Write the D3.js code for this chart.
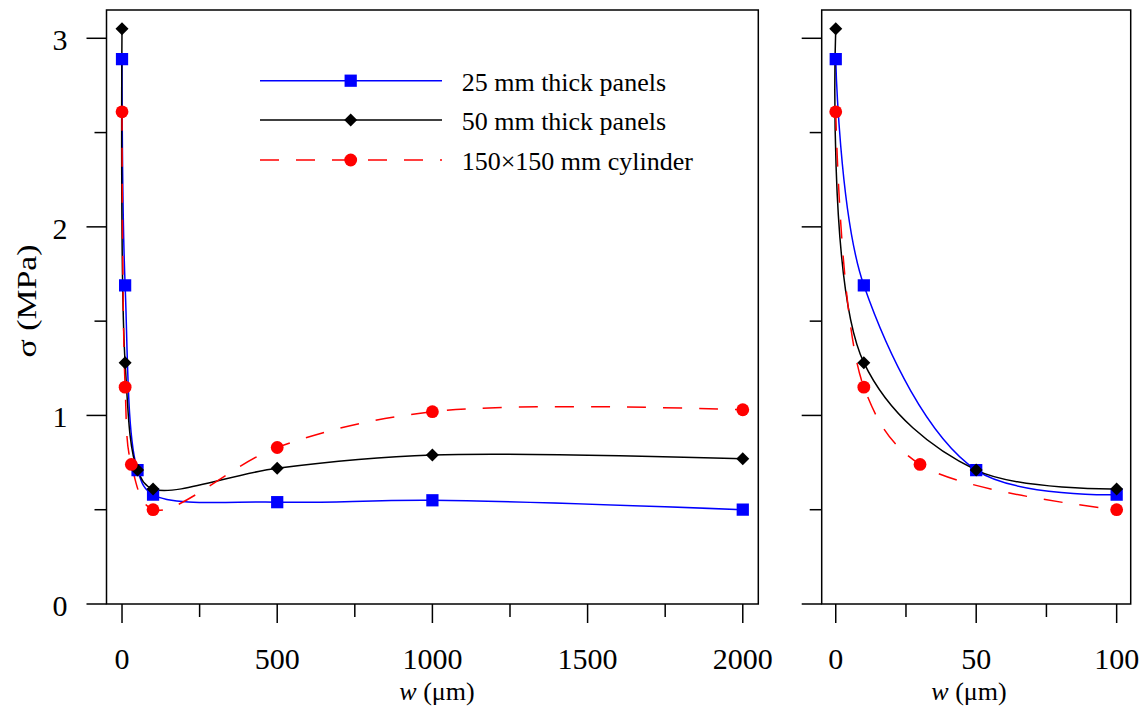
<!DOCTYPE html>
<html>
<head>
<meta charset="utf-8">
<script src="https://cdn.jsdelivr.net/npm/d3@7"></script>
<style>
  html, body { margin: 0; padding: 0; background: #fff; }
  svg { display: block; font-family: "Liberation Serif", "Times New Roman", serif; }
</style>
</head>
<body>
<svg id="chart" width="1148" height="717"></svg>
<script>
// ---- data ----
const seriesNames = ["25 mm thick panels", "50 mm thick panels", "150\u00d7150 mm cylinder"];
const w25 = [0, 10, 50, 100, 500, 1000, 2000];
const s25 = [2.89, 1.69, 0.71, 0.58, 0.54, 0.55, 0.50];
const w50 = [0, 10, 50, 100, 500, 1000, 2000];
const s50 = [3.05, 1.28, 0.71, 0.61, 0.72, 0.79, 0.77];
const wCyl = [0, 10, 30, 100, 500, 1000, 2000];
const sCyl = [2.61, 1.15, 0.74, 0.50, 0.83, 1.02, 1.03];

const yTicksMajor = [0, 1, 2, 3];
const yTicksMinor = [0.5, 1.5, 2.5];
const xLeftMajor = [0, 500, 1000, 1500, 2000];
const xLeftMinor = [250, 750, 1250, 1750];
const xRightMajor = [0, 50, 100];
const xRightMinor = [25, 75];

const series = [
  { name: seriesNames[0], w: w25, s: s25, color: "#0000ff", dash: null, marker: "square" },
  { name: seriesNames[1], w: w50, s: s50, color: "#000000", dash: null, marker: "diamond" },
  { name: seriesNames[2], w: wCyl, s: sCyl, color: "#ff0000", dash: "19,17", marker: "circle" }
];

const svg = d3.select("#chart");
const FONT_TICK = 30, FONT_TITLE = 26, FONT_LEG = 26;

const y = d3.scaleLinear().domain([0, 3.15]).range([604, 10]);

const panels = [
  { id: "L", x: d3.scaleLinear().domain([-50, 2050]).range([106.5, 758.3]),
    major: xLeftMajor, minor: xLeftMinor, yLabels: true, maxW: 2000, titleX: 437 },
  { id: "R", x: d3.scaleLinear().domain([-5, 105]).range([821.7, 1130.7]),
    major: xRightMajor, minor: xRightMinor, yLabels: false, maxW: 100, titleX: 969 }
];

function markerPath(type) {
  if (type === "square") return d3.symbol(d3.symbolSquare, 150)();
  if (type === "diamond") return "M0,-6.5L6.5,0L0,6.5L-6.5,0Z";
  return d3.symbol(d3.symbolCircle, Math.PI * 6.4 * 6.4)();
}

panels.forEach(p => {
  const [x0, x1] = p.x.range();
  const [yb, yt] = y.range();
  const g = svg.append("g");

  // clip
  svg.append("clipPath").attr("id", "clip" + p.id)
    .append("rect").attr("x", x0).attr("y", yt).attr("width", x1 - x0).attr("height", yb - yt);

  // y ticks (outward left)
  g.selectAll(".ymaj").data(yTicksMajor).enter().append("line")
    .attr("x1", x0 - 20).attr("x2", x0).attr("y1", d => y(d)).attr("y2", d => y(d))
    .attr("stroke", "#000").attr("stroke-width", 1.5);
  g.selectAll(".ymin").data(yTicksMinor).enter().append("line")
    .attr("x1", x0 - 12).attr("x2", x0).attr("y1", d => y(d)).attr("y2", d => y(d))
    .attr("stroke", "#000").attr("stroke-width", 1.5);
  if (p.yLabels) {
    g.selectAll(".ylab").data(yTicksMajor).enter().append("text")
      .attr("x", x0 - 39).attr("y", d => y(d) + 12)
      .attr("text-anchor", "end").attr("font-size", FONT_TICK).text(d => d);
  }

  // x ticks (outward down)
  g.selectAll(".xmaj").data(p.major).enter().append("line")
    .attr("x1", d => p.x(d)).attr("x2", d => p.x(d)).attr("y1", yb).attr("y2", yb + 19)
    .attr("stroke", "#000").attr("stroke-width", 1.5);
  g.selectAll(".xmin").data(p.minor).enter().append("line")
    .attr("x1", d => p.x(d)).attr("x2", d => p.x(d)).attr("y1", yb).attr("y2", yb + 13)
    .attr("stroke", "#000").attr("stroke-width", 1.5);
  g.selectAll(".xlab").data(p.major).enter().append("text")
    .attr("x", d => p.x(d)).attr("y", 669)
    .attr("text-anchor", "middle").attr("font-size", FONT_TICK).text(d => d);

  // frame
  g.append("rect").attr("x", x0).attr("y", yt).attr("width", x1 - x0).attr("height", yb - yt)
    .attr("fill", "none").attr("stroke", "#000").attr("stroke-width", 1.5);

  // x title
  const t = g.append("text").attr("x", p.titleX).attr("y", 700)
    .attr("text-anchor", "middle").attr("font-size", FONT_TITLE);
  t.append("tspan").attr("font-style", "italic").text("w");
  t.append("tspan").text(" (\u03bcm)");

  // series
  const plot = g.append("g").attr("clip-path", "url(#clip" + p.id + ")");
  const line = d3.line().x(d => p.x(d[0])).y(d => y(d[1])).curve(d3.curveCatmullRom.alpha(0.5));
  series.forEach(s => {
    const pts = s.w.map((w, i) => [w, s.s[i]]).filter(d => d[0] <= p.maxW);
    plot.append("path").datum(pts).attr("d", line)
      .attr("fill", "none").attr("stroke", s.color).attr("stroke-width", 1.5)
      .attr("stroke-dasharray", s.dash);
  });
  series.forEach(s => {
    const pts = s.w.map((w, i) => [w, s.s[i]]).filter(d => d[0] <= p.maxW);
    plot.selectAll(null).data(pts).enter().append("path")
      .attr("d", markerPath(s.marker))
      .attr("transform", d => `translate(${p.x(d[0])},${y(d[1])})`)
      .attr("fill", s.color);
  });
});

// y title
svg.append("text").attr("transform", "translate(36,301) rotate(-90)")
  .attr("text-anchor", "middle").attr("font-size", 28)
  .attr("textLength", 113).attr("lengthAdjust", "spacingAndGlyphs")
  .text("\u03c3 (MPa)");

// legend
const leg = svg.append("g");
const legRows = [80.7, 120, 160];
series.forEach((s, i) => {
  const ly = legRows[i];
  leg.append("line").attr("x1", 260).attr("x2", 442).attr("y1", ly).attr("y2", ly)
    .attr("stroke", s.color).attr("stroke-width", 1.5).attr("stroke-dasharray", s.dash);
  leg.append("path").attr("d", markerPath(s.marker))
    .attr("transform", `translate(350.7,${ly})`).attr("fill", s.color);
  leg.append("text").attr("x", 461.7).attr("y", ly + 10).attr("font-size", FONT_LEG).text(s.name);
});
</script>
</body>
</html>
